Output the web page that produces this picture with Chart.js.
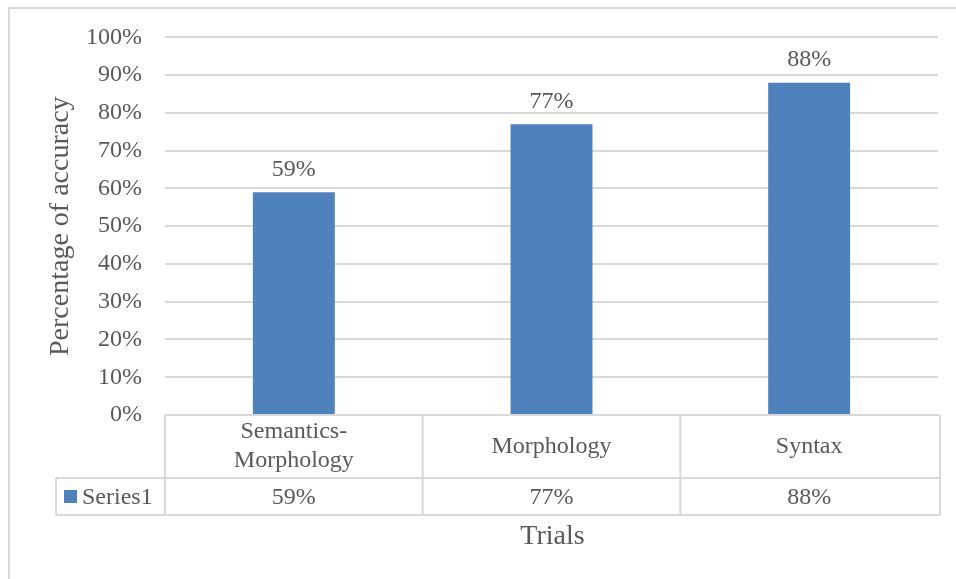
<!DOCTYPE html>
<html>
<head>
<meta charset="utf-8">
<script src="https://cdn.jsdelivr.net/npm/chart.js@4/dist/chart.umd.min.js"></script>
<style>
  html, body { margin: 0; padding: 0; background: #ffffff; }
  #wrap { width: 956px; height: 579px; }
</style>
</head>
<body>
<div id="wrap"><canvas id="c" width="956" height="579"></canvas></div>
<script>
// Accuracy per trial type
const categories = [['Semantics-', 'Morphology'], ['Morphology'], ['Syntax']];
const seriesName = 'Series1';
const accuracy = [59, 77, 88];
const yTicks = { min: 0, max: 100, step: 10 };

const FONT = '"Liberation Serif", "Times New Roman", serif';
const TEXT = '#595959';
const LINE = '#d9d9d9';
const BAR = '#4f81bd';

const pct = v => v + '%';

// Data table under the plot + value labels + frame
const tablePlugin = {
  id: 'dataTable',
  beforeDraw(chart) {
    const ctx = chart.ctx;
    ctx.save();
    ctx.fillStyle = '#ffffff';
    ctx.fillRect(0, 0, chart.width, chart.height);
    ctx.strokeStyle = LINE;
    ctx.lineWidth = 2;
    ctx.beginPath();
    ctx.moveTo(9, chart.height);
    ctx.lineTo(9, 8);
    ctx.lineTo(chart.width, 8);
    ctx.stroke();
    ctx.restore();
  },
  afterDatasetsDraw(chart) {
    const ctx = chart.ctx;
    const meta = chart.getDatasetMeta(0);
    ctx.save();
    ctx.fillStyle = TEXT;
    ctx.font = '24px ' + FONT;
    ctx.textAlign = 'center';
    ctx.textBaseline = 'middle';
    meta.data.forEach((bar, i) => {
      ctx.fillText(pct(accuracy[i]), bar.x, bar.y - 23);
    });
    ctx.restore();
  },
  afterDraw(chart) {
    const ctx = chart.ctx;
    const xs = chart.scales.x;
    const area = chart.chartArea;
    const n = categories.length;
    const left = area.left, right = area.right + 2;
    const catW = (area.right - area.left) / n;
    const top = area.bottom;
    const row1 = top + 63;
    const row2 = row1 + 37;
    const legendLeft = 56;

    ctx.save();
    ctx.strokeStyle = LINE;
    ctx.lineWidth = 2;
    ctx.beginPath();
    // horizontal rules
    ctx.moveTo(left, top); ctx.lineTo(right, top);
    ctx.moveTo(legendLeft, row1); ctx.lineTo(right, row1);
    ctx.moveTo(legendLeft, row2); ctx.lineTo(right, row2);
    // vertical rules
    ctx.moveTo(legendLeft, row1); ctx.lineTo(legendLeft, row2);
    ctx.moveTo(left, top); ctx.lineTo(left, row2);
    for (let i = 0; i < n; i++) {
      const edge = i === n - 1 ? right : xs.getPixelForValue(i) + catW / 2;
      ctx.moveTo(edge, top); ctx.lineTo(edge, row2);
    }
    ctx.stroke();

    ctx.fillStyle = TEXT;
    ctx.font = '24px ' + FONT;
    ctx.textAlign = 'center';
    ctx.textBaseline = 'middle';
    const lh = 29;
    categories.forEach((lines, i) => {
      const cx = xs.getPixelForValue(i);
      const cy = (top + row1) / 2;
      const y0 = cy - (lines.length - 1) * lh / 2;
      lines.forEach((t, k) => ctx.fillText(t, cx, y0 + k * lh));
      ctx.fillText(pct(accuracy[i]), cx, (row1 + row2) / 2 + 1);
    });

    // legend key
    const ry = (row1 + row2) / 2;
    ctx.fillStyle = BAR;
    ctx.fillRect(64, ry - 6.5, 13, 13);
    ctx.fillStyle = TEXT;
    ctx.textAlign = 'left';
    ctx.fillText(seriesName, 82, ry + 1);

    // category axis title
    ctx.font = '28px ' + FONT;
    ctx.textAlign = 'center';
    ctx.fillText('Trials', (area.left + area.right) / 2 + 1, 537);
    ctx.restore();
  }
};

new Chart(document.getElementById('c'), {
  type: 'bar',
  data: {
    labels: categories,
    datasets: [{
      label: seriesName,
      data: accuracy,
      backgroundColor: BAR,
      borderWidth: 0,
      barPercentage: 0.318,
      categoryPercentage: 1
    }]
  },
  options: {
    responsive: false,
    animation: false,
    devicePixelRatio: 1,
    layout: { padding: { left: 44, right: 18, top: 37, bottom: 164 } },
    plugins: { legend: { display: false }, tooltip: { enabled: false } },
    scales: {
      x: { display: false },
      y: {
        min: yTicks.min,
        max: yTicks.max,
        afterFit(scale) { scale.width = 165 - 44; },
        border: { display: false },
        grid: { color: LINE, lineWidth: 2, drawTicks: false },
        ticks: {
          stepSize: yTicks.step,
          padding: 23,
          color: TEXT,
          font: { family: FONT, size: 24 },
          callback: v => pct(v)
        },
        title: {
          display: true,
          text: 'Percentage of accuracy',
          color: TEXT,
          padding: { top: 0, bottom: 0 },
          font: { family: FONT, size: 28 }
        }
      }
    }
  },
  plugins: [tablePlugin]
});
</script>
</body>
</html>
